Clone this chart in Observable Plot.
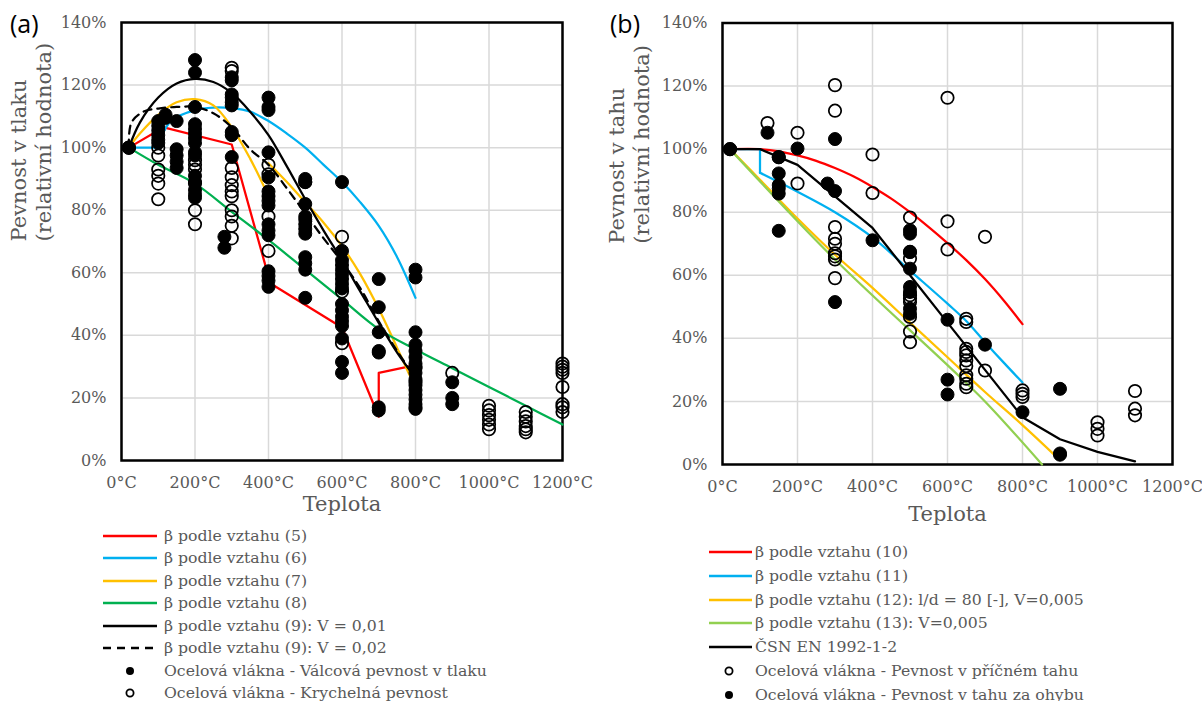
<!DOCTYPE html>
<html>
<head>
<meta charset="utf-8">
<script src="https://cdn.jsdelivr.net/npm/d3@7"></script>
<script src="https://cdn.jsdelivr.net/npm/@observablehq/plot@0.6"></script>
<style>
  html, body { margin: 0; padding: 0; background: #fff; }
  #page { position: relative; width: 1202px; height: 701px; overflow: hidden;
          font-family: "DejaVu Serif", serif; color: #595959; background: #fff; }
  .panel { position: absolute; top: 0; }
  .tag { position: absolute; top: 11px; font-family: "Open Sans", sans-serif; font-size: 25px;
         line-height: 1; color: #000; }
  .lrow { position: absolute; height: 22px; }
  .lrow svg { position: absolute; top: 0; left: 0; }
  .lrow span { position: absolute; top: 0; line-height: 22px; font-size: 15.7px; white-space: nowrap; }
</style>
</head>
<body>
<div id="page">
  <div class="panel" id="panelA" style="left:0;width:600px;"></div>
  <div class="panel" id="panelB" style="left:600px;width:602px;"></div>
  <div class="tag" style="left:10px;">(a)</div>
  <div class="tag" style="left:610px;">(b)</div>
</div>
<script>
// Shared axis ticks
const xTicks = [0, 200, 400, 600, 800, 1000, 1200];
const yTicks = [0, 20, 40, 60, 80, 100, 120, 140];

// ---- (a) compressive strength: model curves [temperature °C, relative strength %]
const betaA5 = [[20,100],[115,106.5],[300,101],[390,63],[400,57],[600,42.5],[700,14],[700,28],[800,30.5]];
const betaA6flat = [[20,100],[100,100]];
const betaA6 = [[100,100],[110,104],[137,108.7],[200,112],[250,112.8],[300,112.6],[350,111.5],[400,108.5],[450,104.5],[500,100],[550,94.5],[600,89],[650,82.5],[700,75],[750,65],[800,52]];
const betaA7low = [[20,100],[50,104.5],[100,110.5],[150,114.5],[200,115.5],[250,113.5],[300,106.5],[350,96.5],[390,87]];
const betaA7high = [[400,95],[450,89],[500,82.5],[550,76],[600,68.5],[650,59.5],[700,48.5],[750,36],[785,27]];
const betaA8 = [[20,100],[100,94.5],[200,88.5],[300,79.5],[400,70.5],[500,61],[600,51.5],[700,42],[800,35.5],[900,29.5],[1000,23.5],[1100,17.5],[1200,11.5]];
const betaA9v01 = [[20,100],[50,108],[100,116],[150,120.5],[200,122],[250,121],[300,117.5],[350,111.5],[400,104],[450,94],[500,83.5],[550,73.5],[600,64],[650,54],[700,44],[750,34.5],[790,28]];
const betaA9v02 = [[20,100],[27,108],[60,111.5],[100,112.5],[150,113],[200,113],[250,111],[300,106.5],[350,99.5],[400,94.5],[450,87],[500,79],[550,71],[600,63.5],[650,55],[700,44.5],[750,35],[790,28]];

// ---- (a) measured values, grouped by temperature: [°C, [relative strength %]]
const cylinderA = [
  [20, [100, 100]],
  [100, [108.5, 107, 105.5, 104, 102.5, 101.5]],
  [120, [110.5, 109.5]],
  [150, [108.5, 99.5, 97.5, 95.5, 93.5]],
  [200, [128, 124, 113, 107.5, 106, 104.5, 103, 101.5, 98.5, 97.5, 91, 89, 86.5, 85, 84]],
  [280, [71.5, 68]],
  [300, [122.5, 121.5, 117, 116, 114.5, 113.5, 105, 104, 97]],
  [400, [116, 113, 112, 98.5, 90.5, 86, 84.5, 83, 81.5, 75.5, 73.5, 72, 60.5, 59, 57.5, 55.5]],
  [500, [90, 89, 82, 78, 77, 75.5, 74, 72.5, 65, 63, 61, 52]],
  [600, [89, 67, 64, 62.5, 61, 59.5, 58, 56.5, 55, 50, 48, 46, 44.5, 43, 39, 31.5, 28]],
  [700, [58, 49, 41, 35, 34.5, 17, 16]],
  [800, [61, 58.5, 41, 37, 35, 33, 31, 29.5, 28, 26, 24, 22.5, 21, 19.5, 18, 17, 16.5]],
  [900, [25, 20, 18]]
];
const cubeA = [
  [20, [100]],
  [100, [100, 97.5, 93, 91, 88.5, 83.5]],
  [200, [96, 94.5, 93, 88.5, 80, 75.5]],
  [300, [125.5, 124.5, 93.5, 90.5, 88, 86, 84.5, 80, 78, 75, 71]],
  [400, [94.5, 91.5, 78, 67]],
  [500, [89]],
  [600, [71.5, 54, 37.5]],
  [800, [30, 25]],
  [900, [28]],
  [1000, [17.5, 16, 14.5, 13, 11.5, 10]],
  [1100, [15.5, 14, 12.5, 11, 10, 9]],
  [1200, [31, 30, 29, 28, 23.5, 18, 17, 15.5]]
];

// ---- (b) tensile strength: model curves
const betaB10 = [[20,100],[100,100],[150,99.3],[200,98],[250,96.3],[300,94],[350,91.3],[400,88],[450,84.3],[500,80],[550,75.3],[600,70.2],[650,64.8],[700,58.8],[750,52],[800,44.5]];
const betaB11step = [[20,100],[100,100],[100,92.5]];
const betaB11 = [[100,92.5],[200,86.5],[300,80],[400,72],[500,61.5],[600,51],[650,45.5],[700,38.8],[750,32.3],[800,26]];
const betaB12 = [[20,100],[100,90.3],[200,78],[300,66.5],[400,56],[500,45],[600,34],[700,23],[800,12.5],[890,2.5]];
const betaB13 = [[20,100],[300,65],[600,31.5],[700,20],[852,0]];
const csnEN = [[20,100],[100,100],[200,95],[300,85],[400,75],[500,60],[600,45],[700,30],[800,15],[900,8],[1000,4],[1100,1]];

// ---- (b) measured values
const splittingB = [
  [20, [100]],
  [120, [108.3]],
  [150, [97.5]],
  [200, [105.2, 89.1]],
  [300, [120.3, 112.2, 75.3, 71.6, 70, 67, 66, 65, 59.1]],
  [400, [98.3, 86.1]],
  [500, [78.3, 67.4, 65.3, 53.7, 52.6, 51.5, 46.8, 42.2, 38.8]],
  [600, [116.3, 77.1, 68.2]],
  [650, [46.2, 45.2, 36.7, 35.7, 34.6, 33, 31.2, 28.3, 27.2, 25.6, 24.5]],
  [700, [72.2, 29.8]],
  [800, [23.5, 22.4, 21.4]],
  [1000, [13.4, 11.3, 9.2]],
  [1100, [23.3, 17.7, 15.6]]
];
const flexuralB = [
  [20, [100]],
  [120, [105.2]],
  [150, [97.4, 92.3, 88.6, 87.5, 85.9, 74.1]],
  [200, [100.2]],
  [280, [89.1]],
  [300, [103.2, 86.7, 51.5]],
  [400, [71.1]],
  [500, [74.3, 73.2, 67.4, 62.1, 56.3, 54.7, 49.4, 47.8]],
  [600, [45.9, 26.9, 22.2]],
  [700, [38]],
  [800, [16.6]],
  [900, [24, 3.1, 3.5]]
];

// Legend entries
const legendA = [
  {kind: "line", color: "#FF0000", label: "β podle vztahu (5)"},
  {kind: "line", color: "#00B0F0", label: "β podle vztahu (6)"},
  {kind: "line", color: "#FFC000", label: "β podle vztahu (7)"},
  {kind: "line", color: "#00B050", label: "β podle vztahu (8)"},
  {kind: "line", color: "#000000", label: "β podle vztahu (9): V = 0,01"},
  {kind: "dash", color: "#000000", label: "β podle vztahu (9): V = 0,02"},
  {kind: "dot", color: "#000000", label: "Ocelová vlákna - Válcová pevnost v tlaku"},
  {kind: "ring", color: "#000000", label: "Ocelová vlákna - Krychelná pevnost"}
];
const legendB = [
  {kind: "line", color: "#FF0000", label: "β podle vztahu (10)"},
  {kind: "line", color: "#00B0F0", label: "β podle vztahu (11)"},
  {kind: "line", color: "#FFC000", label: "β podle vztahu (12): l/d = 80 [-], V=0,005"},
  {kind: "line", color: "#92D050", label: "β podle vztahu (13): V=0,005"},
  {kind: "line", color: "#000000", label: "ČSN EN 1992-1-2"},
  {kind: "ring", color: "#000000", label: "Ocelová vlákna - Pevnost v příčném tahu"},
  {kind: "dot", color: "#000000", label: "Ocelová vlákna - Pevnost v tahu za ohybu"}
];

// Flatten grouped measurements into {t, v} rows
const flat = groups => groups.flatMap(([t, vs]) => vs.map(v => ({t, v})));
const pts = arr => arr.map(([t, v]) => ({t, v}));

const fontStack = '"DejaVu Serif", serif';
// piecewise-linear model
const poly = (data, stroke, extra = {}) =>
  Plot.line(pts(data), {x: "t", y: "v", stroke, strokeWidth: 2.25, ...extra});
// smooth model curve
const smooth = (data, stroke, extra = {}) =>
  Plot.line(pts(data), {x: "t", y: "v", stroke, strokeWidth: 2.25, curve: "catmull-rom", ...extra});
const filledDots = data => Plot.dot(flat(data), {x: "t", y: "v", r: 6.5, fill: "black", stroke: "black", strokeWidth: 1});
const openDots = data => Plot.dot(flat(data), {x: "t", y: "v", r: 6.2, fill: "none", stroke: "black", strokeWidth: 1.75});

function frameMarks(titleY, xTitleDy, yLabelDx) {
  return [
    Plot.gridX(xTicks, {stroke: "#d9d9d9", strokeOpacity: 1, strokeWidth: 1.5}),
    Plot.gridY(yTicks, {stroke: "#d9d9d9", strokeOpacity: 1, strokeWidth: 1.5}),
    Plot.frame({stroke: "black", strokeWidth: 2.5}),
    Plot.axisX(xTicks, {tickSize: 0, tickPadding: 16, tickFormat: d => `${d}°C`, label: null}),
    Plot.axisY(yTicks, {tickSize: 0, tickPadding: 15, tickFormat: d => `${d}%`, label: null}),
    Plot.text(["Teplota"], {frameAnchor: "bottom", dy: xTitleDy, fontSize: 21, fill: "#595959"}),
    Plot.text([titleY], {frameAnchor: "left", rotate: -90, dx: yLabelDx[0], fontSize: 21, fill: "#595959"}),
    Plot.text(["(relativní hodnota)"], {frameAnchor: "left", rotate: -90, dx: yLabelDx[1], fontSize: 21, fill: "#595959"})
  ];
}

const plotStyle = {fontFamily: fontStack, fontSize: "16px", color: "#595959", background: "white", overflow: "visible"};

const chartA = Plot.plot({
  width: 600, height: 530,
  marginLeft: 121, marginRight: 38, marginTop: 22, marginBottom: 70,
  style: plotStyle,
  x: {domain: [0, 1200]},
  y: {domain: [0, 140]},
  marks: [
    ...frameMarks("Pevnost v tlaku", 50, [-102, -77]),
    poly(betaA5, "#FF0000"),
    poly(betaA6flat, "#00B0F0"),
    smooth(betaA6, "#00B0F0"),
    smooth(betaA7low, "#FFC000"),
    smooth(betaA7high, "#FFC000"),
    smooth(betaA8, "#00B050"),
    smooth(betaA9v01, "#000000"),
    smooth(betaA9v02, "#000000", {strokeDasharray: "8,6"}),
    filledDots(cylinderA),
    openDots(cubeA)
  ]
});
document.getElementById("panelA").appendChild(chartA);

const chartB = Plot.plot({
  width: 602, height: 540,
  marginLeft: 122, marginRight: 30, marginTop: 22.5, marginBottom: 76,
  style: plotStyle,
  x: {domain: [0, 1200]},
  y: {domain: [0, 140]},
  marks: [
    ...frameMarks("Pevnost v tahu", 56, [-105, -80]),
    smooth(betaB10, "#FF0000"),
    poly(betaB11step, "#00B0F0"),
    smooth(betaB11, "#00B0F0"),
    smooth(betaB12, "#FFC000"),
    smooth(betaB13, "#92D050"),
    poly(csnEN, "#000000"),
    openDots(splittingB),
    filledDots(flexuralB)
  ]
});
document.getElementById("panelB").appendChild(chartB);

// Legends under each chart
function drawLegend(entries, o) {
  const page = document.getElementById("page");
  entries.forEach((e, i) => {
    const cy = o.y0 + i * o.dy;
    const row = document.createElement("div");
    row.className = "lrow";
    row.style.left = o.left + "px";
    row.style.top = (cy - 11) + "px";
    row.style.width = "560px";
    let sw = "";
    if (e.kind === "line" || e.kind === "dash") {
      sw = `<line x1="${o.s0}" x2="${o.s1}" y1="11" y2="11" stroke="${e.color}" stroke-width="2.6"${e.kind === "dash" ? ' stroke-dasharray="8,6"' : ""}/>`;
    } else if (e.kind === "dot") {
      sw = `<circle cx="${o.m}" cy="11" r="4" fill="${e.color}"/>`;
    } else {
      sw = `<circle cx="${o.m}" cy="11" r="3.6" fill="none" stroke="${e.color}" stroke-width="1.8"/>`;
    }
    row.innerHTML = `<svg width="${o.t}" height="22">${sw}</svg><span style="left:${o.t}px">${e.label}</span>`;
    page.appendChild(row);
  });
}
drawLegend(legendA, {left: 0, y0: 535.7, dy: 22.5, s0: 103, s1: 157, m: 130, t: 164});
drawLegend(legendB, {left: 600, y0: 551.7, dy: 23.9, s0: 109, s1: 152, m: 129, t: 155});
</script>
</body>
</html>
